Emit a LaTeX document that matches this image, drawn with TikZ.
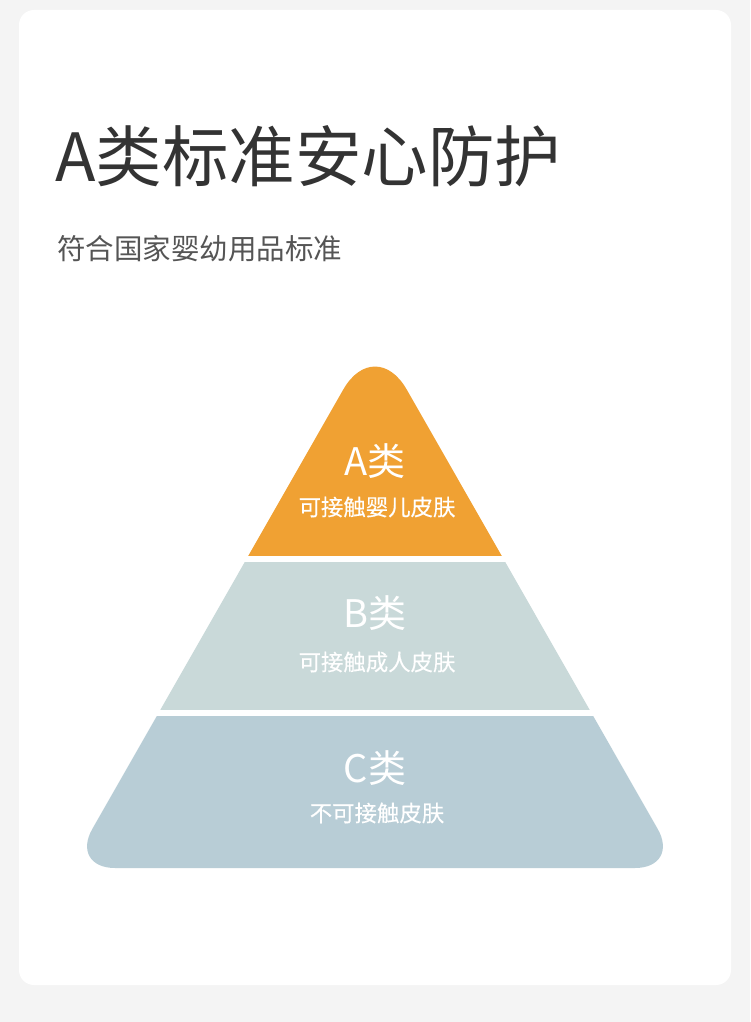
\documentclass[tikz,border=0pt]{standalone}
\usepackage{fontspec}
\setmainfont{Noto Sans CJK SC}
\newfontfamily\notefont[FakeBold=0.35]{Noto Sans CJK SC}
\definecolor{pagebg}{HTML}{F4F4F4}
\definecolor{titlec}{HTML}{333333}
\definecolor{subc}{HTML}{555555}
\definecolor{tierA}{HTML}{F0A133}
\definecolor{tierB}{HTML}{C9D9D9}
\definecolor{tierC}{HTML}{B8CDD6}
\tikzset{
  tierlabel/.style={text=white, font=\fontsize{38}{40}\selectfont, inner sep=0pt, anchor=base},
  tiernote/.style={text=white, font=\notefont\fontsize{22.4}{24}\selectfont, inner sep=0pt, anchor=base},
}
\begin{document}
\begin{tikzpicture}[x=1pt,y=-1pt]
\useasboundingbox (0,0) rectangle (750,1022);
\fill[pagebg] (0,0) rectangle (750,1022);
\fill[white, rounded corners=15pt] (19,10) rectangle (731,985);

\node[anchor=base west, inner sep=0pt, text=titlec, font=\fontsize{66.5}{70}\selectfont] (title) at (55,181) {A类标准安心防护};
\node[anchor=base west, inner sep=0pt, text=subc, font=\fontsize{28.5}{30}\selectfont] (subtitle) at (57,259.5) {符合国家婴幼用品标准};

\begin{scope}
\clip (375,868) [rounded corners=45pt] -- (70,868) [rounded corners=64pt] -- (375,334) [rounded corners=45pt] -- (680,868) [sharp corners] -- cycle;
\fill[tierA] (0,300) rectangle (750,556);
\fill[tierB] (0,561.5) rectangle (750,710);
\fill[tierC] (0,715.5) rectangle (750,900);
\end{scope}

\node[tierlabel] (la) at (375,475) {A类};
\node[tiernote] (na) at (377,515.5) {可接触婴儿皮肤};
\node[tierlabel] (lb) at (375,627) {B类};
\node[tiernote] (nb) at (377,670.5) {可接触成人皮肤};
\node[tierlabel] (lc) at (375,782) {C类};
\node[tiernote] (nc) at (377,821.5) {不可接触皮肤};
\end{tikzpicture}
\end{document}
